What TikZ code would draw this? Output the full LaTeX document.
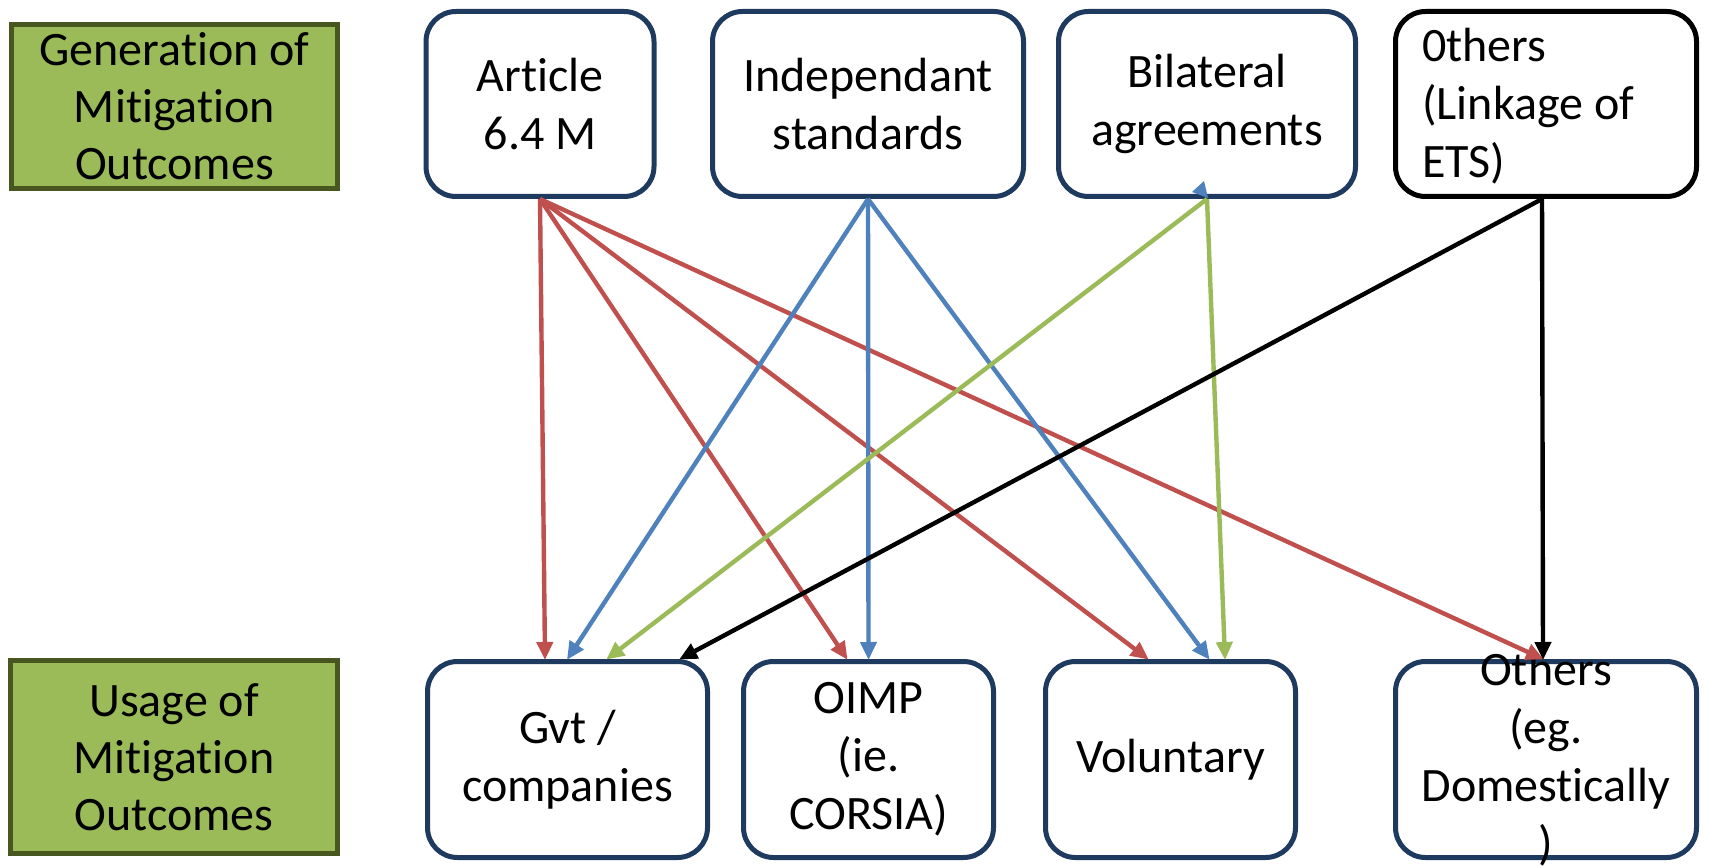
\documentclass[tikz,border=0pt]{standalone}
\usepackage{fontspec}
\setmainfont[Ligatures=NoCommon]{Carlito}
\usetikzlibrary{arrows.meta,calc}
\definecolor{navy}{HTML}{1F3A5F}
\definecolor{lblfill}{HTML}{9BBB59}
\definecolor{lbldraw}{HTML}{48571F}
\definecolor{cred}{HTML}{C0504D}
\definecolor{cblue}{HTML}{4F81BD}
\definecolor{cgreen}{HTML}{9BBB59}
\tikzset{
  box/.style={draw=navy, line width=5pt, rounded corners=30pt, fill=white, align=center, inner sep=0pt,
    font=\fontsize{48}{58}\selectfont},
  lbl/.style={draw=lbldraw, line width=5pt, fill=lblfill, align=center, inner sep=0pt,
    font=\fontsize{48}{57}\selectfont},
  txt/.style={inner sep=0pt, font=\fontsize{48}{58}\selectfont},
  conn/.style={line width=4.4pt, -{Triangle[length=18pt,width=16pt]}, shorten >=-1pt},
  redc/.style={conn, draw=cred, fill=cred},
  bluec/.style={conn, draw=cblue, fill=cblue},
  greenc/.style={conn, draw=cgreen, fill=cgreen},
  blackc/.style={conn, draw=black, fill=black},
}
\begin{document}
\begin{tikzpicture}[x=1pt,y=-1pt]
\useasboundingbox (0,0) rectangle (1710,866);
% labels
\node[lbl, minimum width=326pt, minimum height=164pt] (gen) at (174.5,106.5) {Generation of\\Mitigation\\Outcomes};
\node[lbl, minimum width=327pt, minimum height=193pt] (use) at (174,757) {Usage of\\Mitigation\\Outcomes};
% top boxes
\node[box, minimum width=228pt, minimum height=185pt] (art) at (540,104) {Article\\6.4 M};
\node[box, minimum width=311pt, minimum height=185pt] (ind) at (868,104) {Independant\\standards};
\node[box, minimum width=297pt, minimum height=185pt] (bil) at (1207,104) {Bilateral\\agreements};
\node[box, draw=black, minimum width=301pt, minimum height=185pt] (oth) at (1546,104) {};
\node[txt, align=left, anchor=west] (otht) at (1422,106) {0thers\\(Linkage of\\ETS)};
% bottom boxes
\node[box, minimum width=280pt, minimum height=196pt] (gvt) at (567.5,759.5) {Gvt /\\companies};
\node[box, minimum width=250pt, minimum height=196pt] (oimp) at (868.5,759.5) {OIMP\\(ie.\\CORSIA)};
\node[box, minimum width=250pt, minimum height=196pt] (vol) at (1170.5,759.5) {Voluntary};
\node[box, minimum width=301pt, minimum height=196pt] (othb) at (1546,759.5) {};
\node[txt, align=center] (othbt) at (1546,759) {Others\\(eg.\\Domestically\\)};
% red connectors
\draw[redc] (art.south) -- ([xshift=-22.5pt]gvt.north);
\draw[redc] (art.south) -- ([xshift=-21.5pt]oimp.north);
\draw[redc] (art.south) -- ([xshift=-22.5pt]vol.north);
\draw[redc] (art.south) -- ([xshift=-3pt]othb.north);
% blue connectors
\draw[bluec] (ind.south) -- (gvt.north);
\draw[bluec] (ind.south) -- (oimp.north);
\draw[bluec] (ind.south) -- ([xshift=38.5pt]vol.north);
% green connectors
\draw[greenc] (bil.south) -- ([xshift=39.5pt]gvt.north);
\draw[greenc] (bil.south) -- ([xshift=54.5pt]vol.north);
% black connectors
\draw[blackc] ([xshift=-4pt]oth.south) -- ([xshift=112.5pt]gvt.north);
\draw[blackc] ([xshift=-4pt]oth.south) -- ([xshift=-3pt]othb.north);
% small blue arrowhead at bilateral box
\fill[cblue] (1192,192) -- (1204,181) -- (1208,198) -- cycle;
\end{tikzpicture}
\end{document}
